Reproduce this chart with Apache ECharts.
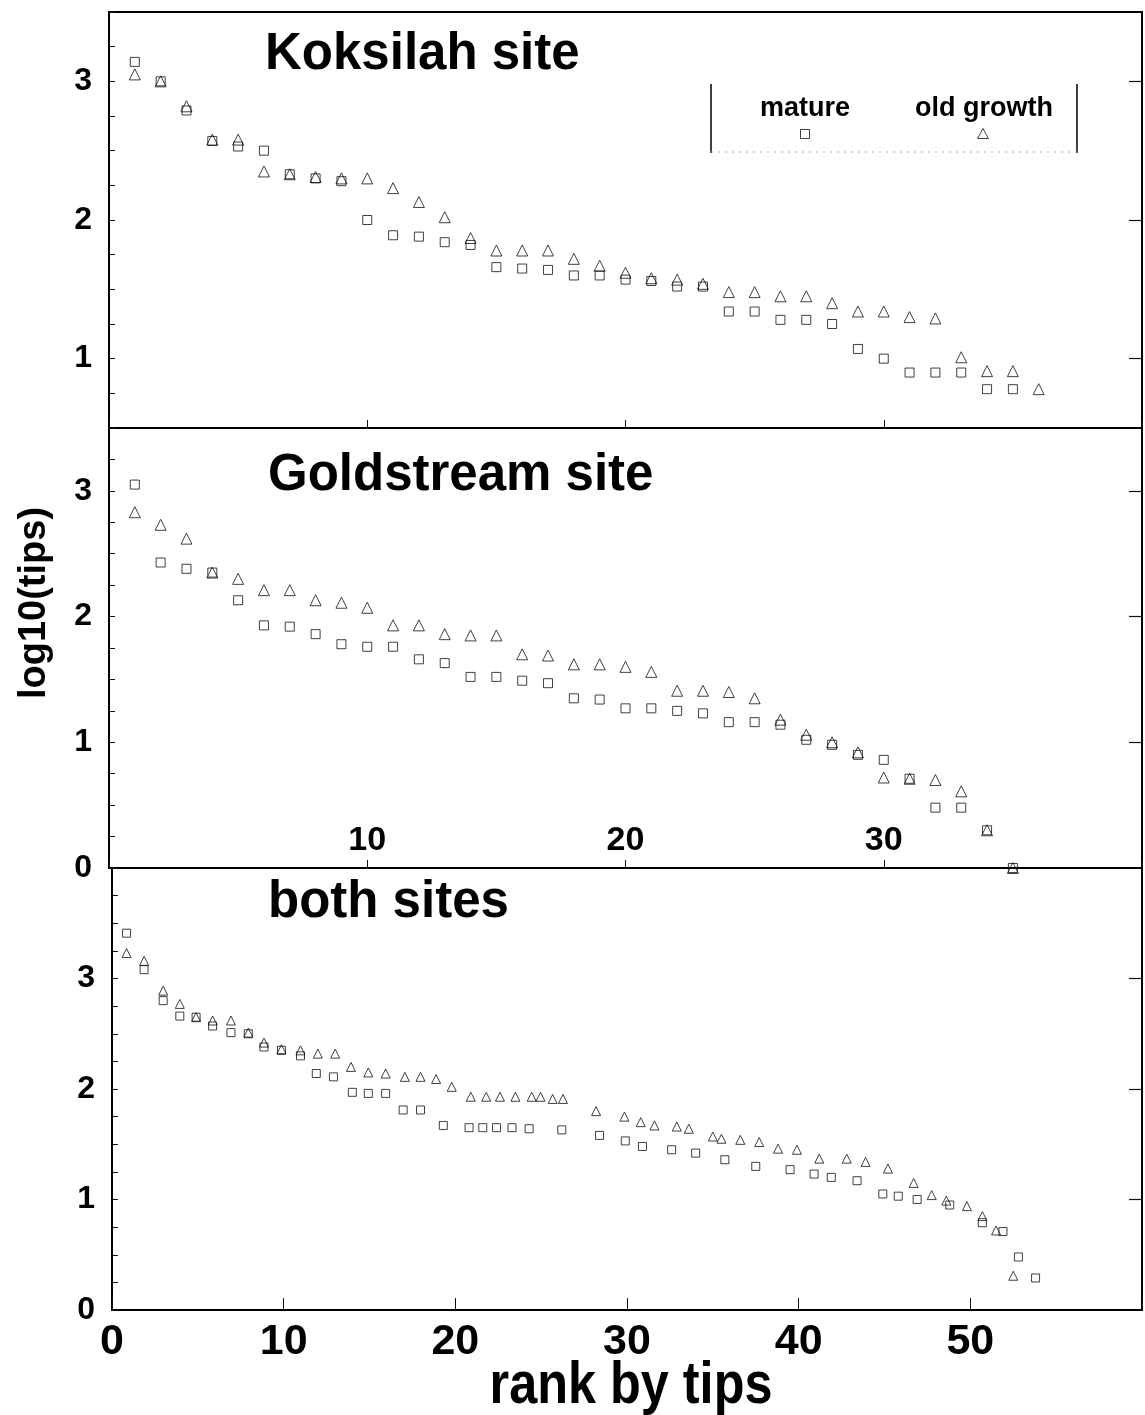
<!DOCTYPE html>
<html>
<head>
<meta charset="utf-8">
<script src="https://cdn.jsdelivr.net/npm/echarts@6/dist/echarts.min.js"></script>
<style>
  html, body { margin: 0; padding: 0; background: #fff; }
  #chart { width: 1145px; height: 1415px; }
</style>
</head>
<body>
<div id="chart"></div>
<script>
const INK = '#111'
const FONT = '"Liberation Sans", Arial, Helvetica, sans-serif'

// log10(tips) by rank (rank = index + 1)
const kokMature = [3.14, 3.00, 2.79, 2.57, 2.53, 2.50, 2.33, 2.30, 2.28, 2.00, 1.89, 1.88, 1.84, 1.82, 1.66, 1.65, 1.64, 1.60, 1.60, 1.57,
  1.56, 1.52, 1.52, 1.34, 1.34, 1.28, 1.28, 1.25, 1.07, 1.00, 0.90, 0.90, 0.90, 0.78, 0.78]
const kokOld = [3.05, 3.00, 2.82, 2.58, 2.58, 2.35, 2.33, 2.31, 2.30, 2.30, 2.23, 2.13, 2.02, 1.87, 1.78, 1.78, 1.78, 1.72, 1.67, 1.62,
  1.58, 1.57, 1.54, 1.48, 1.48, 1.45, 1.45, 1.40, 1.34, 1.34, 1.30, 1.29, 1.01, 0.91, 0.91, 0.78]
const goldMature = [3.05, 2.43, 2.38, 2.35, 2.13, 1.93, 1.92, 1.86, 1.78, 1.76, 1.76, 1.66, 1.63, 1.52, 1.52, 1.49, 1.47, 1.35, 1.34, 1.27,
  1.27, 1.25, 1.23, 1.16, 1.16, 1.14, 1.02, 0.98, 0.90, 0.86, 0.71, 0.48, 0.48, 0.30, 0]
const goldOld = [2.83, 2.73, 2.62, 2.35, 2.30, 2.21, 2.21, 2.13, 2.11, 2.07, 1.93, 1.93, 1.86, 1.85, 1.85, 1.70, 1.69, 1.62, 1.62, 1.60,
  1.56, 1.41, 1.41, 1.40, 1.35, 1.18, 1.06, 1.00, 0.92, 0.72, 0.71, 0.70, 0.61, 0.30, 0]

// both sites: ranks are not evenly spaced, so x and y are kept separately
const bothMatureRank = [0.85, 1.87, 2.98, 3.95, 4.9, 5.86, 6.93, 7.94, 8.85, 9.87, 10.98, 11.9, 12.9, 14.0, 14.93, 15.94, 16.96, 17.97, 19.3, 20.8,
  21.6, 22.4, 23.3, 24.3, 26.2, 28.4, 29.9, 30.9, 32.6, 34.0, 35.7, 37.5, 39.5, 40.9, 41.9, 43.4, 44.9, 45.8, 46.9, 48.8,
  50.7, 51.9, 52.8, 53.8]
const bothMatureLog = [3.41, 3.08, 2.80, 2.66, 2.65, 2.57, 2.51, 2.50, 2.38, 2.35, 2.30, 2.14, 2.11, 1.97, 1.96, 1.96, 1.81, 1.81, 1.67, 1.65,
  1.65, 1.65, 1.65, 1.64, 1.63, 1.58, 1.53, 1.48, 1.45, 1.42, 1.36, 1.30, 1.27, 1.23, 1.20, 1.17, 1.05, 1.03, 1.00, 0.95,
  0.79, 0.71, 0.48, 0.29]
const bothOldRank = [0.85, 1.87, 2.98, 3.95, 4.9, 5.86, 6.93, 7.94, 8.85, 9.87, 10.98, 11.99, 13.0, 13.92, 14.93, 15.94, 17.06, 17.97, 18.88, 19.79,
  20.9, 21.8, 22.6, 23.5, 24.45, 24.96, 25.67, 26.27, 28.2, 29.85, 30.8, 31.6, 32.9, 33.6, 35.0, 35.5, 36.6, 37.7, 38.8, 39.9,
  41.2, 42.8, 43.9, 45.2, 46.7, 47.75, 48.6, 49.8, 50.7, 51.5, 52.5]
const bothOldLog = [3.23, 3.16, 2.89, 2.77, 2.65, 2.62, 2.62, 2.51, 2.42, 2.36, 2.35, 2.32, 2.32, 2.20, 2.15, 2.14, 2.11, 2.11, 2.09, 2.02,
  1.93, 1.93, 1.93, 1.93, 1.93, 1.93, 1.91, 1.91, 1.80, 1.75, 1.70, 1.67, 1.66, 1.64, 1.57, 1.55, 1.54, 1.52, 1.46, 1.45,
  1.37, 1.37, 1.34, 1.28, 1.15, 1.04, 0.99, 0.94, 0.85, 0.72, 0.31]

const panelTitles = ['Koksilah site', 'Goldstream site', 'both sites']
const seriesNames = ['mature', 'old growth']
const yRanges = [[0.5, 3.5], [0, 3.5], [0, 4]]
const yLabels = [[1, 2, 3], [0, 1, 2, 3], [0, 1, 2, 3]]
const xRanges = [[0, 40], [0, 40], [0, 60]]

const grids = [
  { left: 109, top: 12, width: 1033, height: 416 },
  { left: 109, top: 428, width: 1033, height: 440 },
  { left: 112, top: 868, width: 1032, height: 442 },
]

const byRank = (vals) => vals.map((v, i) => [i + 1, v])
const zip = (xs, ys) => xs.map((x, i) => [x, ys[i]])

const hollow = { color: 'rgba(255,255,255,0)', borderColor: INK, borderWidth: 1 }

function scatter(name, panel, data, small) {
  const square = name === 'mature'
  return {
    type: 'scatter',
    name,
    xAxisIndex: panel,
    yAxisIndex: panel,
    data,
    symbol: square ? 'rect' : 'triangle',
    symbolSize: square ? (small ? 8 : 9) : (small ? 9 : 11),
    itemStyle: hollow,
    emphasis: { disabled: true },
  }
}

function yAxisMain(i) {
  const labels = yLabels[i]
  return {
    type: 'value',
    gridIndex: i,
    min: yRanges[i][0],
    max: yRanges[i][1],
    interval: 0.25,
    axisLine: { show: false },
    splitLine: { show: false },
    axisTick: { show: true, inside: true, length: 6, lineStyle: { color: INK, width: 1 } },
    axisLabel: {
      margin: 17,
      color: '#000',
      fontFamily: FONT,
      fontWeight: 'bold',
      fontSize: 32,
      formatter: (v) => (labels.includes(Math.round(v * 100) / 100) ? String(Math.round(v)) : ''),
    },
  }
}

function yAxisLong(i) {
  return {
    type: 'value',
    gridIndex: i,
    min: yRanges[i][0],
    max: yRanges[i][1],
    axisLine: { show: false },
    splitLine: { show: false },
    axisLabel: { show: false },
    axisTick: {
      show: true, inside: true, length: 13,
      customValues: [0, 1, 2, 3].filter((v) => v > yRanges[i][0] && v < yRanges[i][1]),
      lineStyle: { color: INK, width: 1.2 },
    },
  }
}

function xAxis(i) {
  const base = {
    type: 'value',
    gridIndex: i,
    min: xRanges[i][0],
    max: xRanges[i][1],
    interval: 10,
    axisLine: { show: false },
    splitLine: { show: false },
    axisTick: { show: true, inside: true, length: i === 2 ? 12 : 8, lineStyle: { color: INK, width: 1 } },
  }
  if (i === 0) return { ...base, axisLabel: { show: false } }
  if (i === 1) {
    return {
      ...base,
      axisLabel: {
        inside: true, margin: 10, color: '#000', fontFamily: FONT, fontWeight: 'bold', fontSize: 34,
        formatter: (v) => (v > 0 && v < 40 ? String(v) : ''),
      },
    }
  }
  return {
    ...base,
    axisLabel: {
      margin: 11, color: '#000', fontFamily: FONT, fontWeight: 'bold', fontSize: 43,
      formatter: (v) => (v < 60 ? String(v) : ''),
    },
  }
}

const titleTops = [29, 450, 877]
const titleLefts = [265, 268, 268]

const option = {
  animation: false,
  backgroundColor: '#fff',
  title: panelTitles.map((t, i) => ({
    text: t,
    left: titleLefts[i],
    top: titleTops[i],
    padding: 0,
    textStyle: { fontFamily: FONT, fontWeight: 'bold', fontSize: 51, color: '#000' },
  })),
  grid: grids.map((g) => ({ ...g, show: true, borderColor: '#000', borderWidth: 2, backgroundColor: 'transparent' })),
  xAxis: [0, 1, 2].map(xAxis),
  yAxis: [...[0, 1, 2].map(yAxisMain), ...[0, 1, 2].map(yAxisLong)],
  legend: [
    {
      data: [seriesNames[0]], left: 800, top: 129, padding: 0, itemWidth: 9, itemHeight: 9,
      icon: 'rect', itemStyle: hollow, selectedMode: false, formatter: () => '',
    },
    {
      data: [seriesNames[1]], left: 977, top: 128, padding: 0, itemWidth: 11, itemHeight: 10,
      icon: 'triangle', itemStyle: hollow, selectedMode: false, formatter: () => '',
    },
  ],
  graphic: [
    { type: 'line', shape: { x1: 711, y1: 84, x2: 711, y2: 153 }, style: { stroke: '#000', lineWidth: 1.5 } },
    { type: 'line', shape: { x1: 1077, y1: 84, x2: 1077, y2: 153 }, style: { stroke: '#000', lineWidth: 1.5 } },
    { type: 'line', shape: { x1: 711, y1: 152, x2: 1077, y2: 152 }, style: { stroke: '#aaa', lineWidth: 1, lineDash: [2, 5] } },
    {
      type: 'text', x: 805, y: 109,
      style: { text: 'mature', font: `bold 27px ${FONT}`, fill: '#000', align: 'center', verticalAlign: 'middle', textAlign: 'center', textVerticalAlign: 'middle' },
    },
    {
      type: 'text', x: 984, y: 109,
      style: { text: 'old growth', font: `bold 27px ${FONT}`, fill: '#000', align: 'center', verticalAlign: 'middle', textAlign: 'center', textVerticalAlign: 'middle' },
    },
    {
      type: 'text', x: 35, y: 603, rotation: Math.PI / 2,
      style: { text: 'log10(tips)', font: `bold 38px ${FONT}`, fill: '#000', align: 'center', verticalAlign: 'middle', textAlign: 'center', textVerticalAlign: 'middle' },
    },
    {
      type: 'text', x: 631, y: 1386, scaleX: 0.84,
      style: { text: 'rank by tips', font: `bold 60px ${FONT}`, fill: '#000', align: 'center', verticalAlign: 'middle', textAlign: 'center', textVerticalAlign: 'middle' },
    },
  ],
  series: [
    scatter('mature', 0, byRank(kokMature)),
    scatter('old growth', 0, byRank(kokOld)),
    scatter('mature', 1, byRank(goldMature)),
    scatter('old growth', 1, byRank(goldOld)),
    scatter('mature', 2, zip(bothMatureRank, bothMatureLog), true),
    scatter('old growth', 2, zip(bothOldRank, bothOldLog), true),
  ],
}

const chart = echarts.init(document.getElementById('chart'), null, { renderer: 'canvas' })
chart.setOption(option)
</script>
</body>
</html>
